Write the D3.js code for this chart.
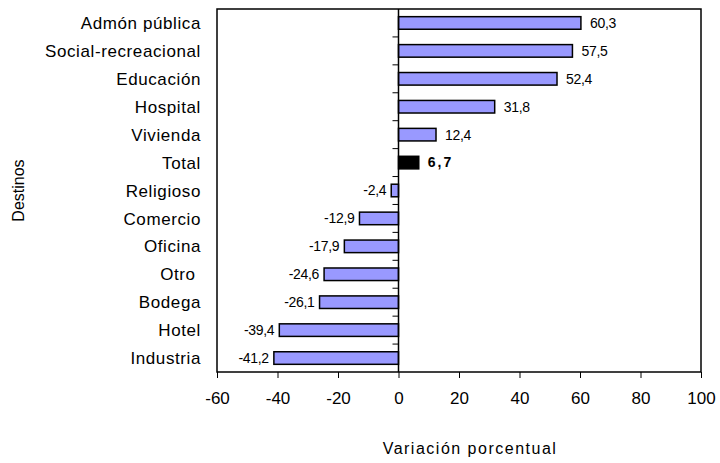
<!DOCTYPE html>
<html>
<head>
<meta charset="utf-8">
<script src="https://cdn.jsdelivr.net/npm/d3@7"></script>
<style>
  body { margin: 0; background: #fff; }
  text { font-family: "Liberation Sans", Arial, sans-serif; fill: #000; white-space: pre; }
</style>
</head>
<body>
<div id="chart"></div>
<script>
// data
var categories = ["Admón pública", "Social-recreacional", "Educación", "Hospital", "Vivienda", "Total",
  "Religioso", "Comercio", "Oficina", "Otro ", "Bodega", "Hotel", "Industria"];
var values = [60.3, 57.5, 52.4, 31.8, 12.4, 6.7, -2.4, -12.9, -17.9, -24.6, -26.1, -39.4, -41.2];
var xTicks = [-60, -40, -20, 0, 20, 40, 60, 80, 100];

var W = 720, H = 463;
var margin = { top: 9, right: 19, bottom: 91, left: 217 },
  width = W - margin.left - margin.right,
  height = H - margin.top - margin.bottom;

var svg = d3.select("#chart").append("svg")
  .attr("width", W)
  .attr("height", H);

var g = svg.append("g")
  .attr("transform", "translate(" + margin.left + "," + margin.top + ")");

var x = d3.scaleLinear().domain([-60, 100]).range([0, width]);
var y = d3.scaleBand().domain(categories).range([0, height]).paddingInner(0.55).paddingOuter(0.275);
var band = d3.scaleBand().domain(categories).range([0, height]);

var fmt = function (v) { return String(v).replace(".", ","); };

// frame
g.append("rect")
  .attr("width", width).attr("height", height)
  .attr("fill", "none").attr("stroke", "#000").attr("stroke-width", 1.5);

// bars
g.selectAll("rect.bar")
  .data(values)
  .enter().append("rect")
  .attr("class", "bar")
  .attr("x", function (d) { return x(Math.min(0, d)); })
  .attr("y", function (d, i) { return y(categories[i]); })
  .attr("width", function (d) { return Math.abs(x(d) - x(0)); })
  .attr("height", y.bandwidth())
  .attr("fill", function (d, i) { return categories[i] == "Total" ? "#000" : "#9999ff"; })
  .attr("stroke", "#000")
  .attr("stroke-width", 1.5);

// zero axis with ticks between categories
var zeroAxis = g.append("g").attr("transform", "translate(" + x(0) + ",0)");
zeroAxis.append("line").attr("y1", 0).attr("y2", height).attr("stroke", "#000").attr("stroke-width", 1.5);
zeroAxis.selectAll("line.tk")
  .data(d3.range(1, categories.length))
  .enter().append("line")
  .attr("class", "tk")
  .attr("x1", -6).attr("x2", 0)
  .attr("y1", function (d) { return d * band.step(); })
  .attr("y2", function (d) { return d * band.step(); })
  .attr("stroke", "#000");

// value labels
g.selectAll("text.val")
  .data(values)
  .enter().append("text")
  .attr("class", "val")
  .attr("x", function (d) { return d >= 0 ? x(d) + 9 : x(d) - 5; })
  .attr("y", function (d, i) { return y(categories[i]) + y.bandwidth() / 2; })
  .attr("dy", "0.35em")
  .attr("text-anchor", function (d) { return d >= 0 ? "start" : "end"; })
  .style("font-size", "14px")
  .style("font-weight", function (d, i) { return categories[i] == "Total" ? "bold" : "normal"; })
  .style("letter-spacing", function (d, i) { return categories[i] == "Total" ? "2px" : "-0.3px"; })
  .text(function (d) { return fmt(d); });

// category labels
g.selectAll("text.cat")
  .data(categories)
  .enter().append("text")
  .attr("class", "cat")
  .attr("x", -16)
  .attr("y", function (d) { return band(d) + band.bandwidth() / 2; })
  .attr("dy", "0.36em")
  .attr("text-anchor", "end")
  .style("font-size", "17px")
  .style("letter-spacing", "0.6px")
  .text(function (d) { return d; });

// x axis
var xAxis = g.append("g")
  .attr("transform", "translate(0," + height + ")")
  .call(d3.axisBottom(x).tickValues(xTicks).tickFormat(function (d) { return String(d); })
    .tickSize(6).tickSizeOuter(0).tickPadding(14));
xAxis.select(".domain").remove();
xAxis.selectAll("line").attr("stroke", "#000");
xAxis.selectAll("text").style("font-size", "17px").style("font-family", "Liberation Sans, Arial, sans-serif");

// axis titles
svg.append("text")
  .attr("x", 470)
  .attr("y", 454)
  .attr("text-anchor", "middle")
  .style("font-size", "16px")
  .style("letter-spacing", "1.5px")
  .text("Variación porcentual");

svg.append("text")
  .attr("transform", "translate(24," + (margin.top + height / 2) + ") rotate(-90)")
  .attr("text-anchor", "middle")
  .style("font-size", "16px")
  .text("Destinos");
</script>
</body>
</html>
